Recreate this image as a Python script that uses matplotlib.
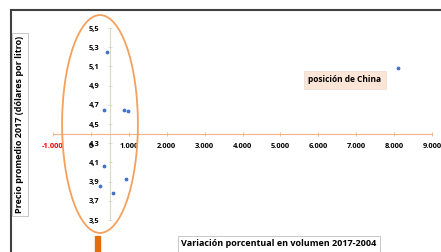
import numpy as np
import matplotlib.pyplot as plt
from matplotlib.patches import Ellipse, Rectangle
from matplotlib.lines import Line2D

# variation in volume 2017-2004 (%) vs average price 2017 (USD per litre)
variacion = [425, 346, 873, 979, 346, 240, 583, 926, 8100]
precio = [5.25, 4.65, 4.65, 4.64, 4.06, 3.85, 3.78, 3.93, 5.08]

x_ticks = [-1000, 0, 1000, 2000, 3000, 4000, 5000, 6000, 7000, 8000, 9000]
y_ticks = [3.5, 3.7, 3.9, 4.1, 4.3, 4.5, 4.7, 4.9, 5.1, 5.3, 5.5]

plt.rcParams['font.family'] = ['Open Sans', 'DejaVu Sans']

fig = plt.figure(figsize=(4.41, 2.52), dpi=100)
ax = fig.add_axes([53 / 441, 32 / 252, 379 / 441, 192 / 252])
ax.patch.set_alpha(0)

ax.scatter(variacion, precio, s=3, color='#4472c4', zorder=5, clip_on=False)

ax.set_xlim(-1000, 9000)
ax.set_ylim(3.5, 5.5)

ax.spines['top'].set_visible(False)
ax.spines['right'].set_visible(False)
ax.spines['left'].set_position(('data', 500))
ax.spines['bottom'].set_position(('data', 4.4))
ax.spines['left'].set_color('#d6dcc4')
ax.spines['bottom'].set_color('#f4b183')
ax.spines['left'].set_linewidth(0.8)
ax.spines['bottom'].set_linewidth(0.8)

ax.set_xticks(x_ticks)
ax.set_xticklabels([f"{v:,}".replace(',', '.') for v in x_ticks],
                   fontsize=5.4, fontweight='bold')
ax.set_yticks(y_ticks)
ax.set_yticklabels([f"{v:.1f}".replace('.', ',') for v in y_ticks],
                   fontsize=5.4, fontweight='bold')
ax.tick_params(axis='x', direction='inout', length=3, width=0.6,
               color='#f4b183', pad=5)
ax.tick_params(axis='y', direction='inout', length=3, width=0.6,
               color='#d6dcc4', pad=6)
ax.get_xticklabels()[0].set_color('red')

# China label
ax.text(6700, 4.96, 'posición de China', fontsize=6, fontweight='bold',
        ha='center', va='center',
        bbox=dict(boxstyle='square,pad=0.55', fc='#fbe5d6', ec='#eadbd0', lw=0.5))

# highlight ellipse round the cluster
ax.add_patch(Ellipse((240, 4.5), 2000, 2.27, fill=False, ec='#f4a15d',
                     lw=1.3, clip_on=False, zorder=4))

# orange arrow stem below the ellipse
fig.patches.append(Rectangle((95 / 441, 0), 5 / 441, 16 / 252,
                             transform=fig.transFigure, color='#e46c0a'))

# axis titles in boxes
fig.text(20 / 441, 0.505, 'Precio promedio 2017 (dólares por litro)', rotation=90,
         fontsize=6.5, fontweight='bold', ha='center', va='center',
         bbox=dict(boxstyle='square,pad=0.35', fc='white', ec='#bfbfbf', lw=0.6))
fig.text(279 / 441, 8 / 252, 'Variación porcentual en volumen 2017-2004',
         fontsize=6.5, fontweight='bold', ha='center', va='center',
         bbox=dict(boxstyle='square,pad=0.35', fc='white', ec='#bfbfbf', lw=0.6))

# outer frame (top and left edges visible)
fig.lines.append(Line2D([11 / 441, 1], [242 / 252, 242 / 252],
                        transform=fig.transFigure, color='#404040', lw=1.5))
fig.lines.append(Line2D([11 / 441, 11 / 441], [0, 242 / 252],
                        transform=fig.transFigure, color='#404040', lw=1.5))

fig.savefig('out.png', dpi=100)
